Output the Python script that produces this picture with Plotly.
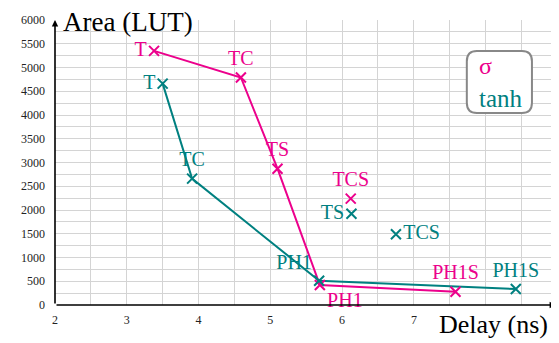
import plotly.graph_objects as go

# sigma series
sig_labels = ["T", "TC", "TS", "PH1", "PH1S", "TCS"]
sig_delay = [3.38, 4.59, 5.10, 5.69, 7.58, 6.12]
sig_area = [5350, 4790, 2870, 420, 280, 2240]
sig_front = ["T", "TC", "TS", "PH1", "PH1S"]

# tanh series
tanh_labels = ["T", "TC", "PH1", "PH1S", "TS", "TCS"]
tanh_delay = [3.50, 3.91, 5.68, 8.42, 6.13, 6.75]
tanh_area = [4660, 2660, 510, 336, 1920, 1490]
tanh_front = ["T", "TC", "PH1", "PH1S"]

x_ticks = [2, 3, 4, 5, 6, 7]
y_ticks = list(range(0, 6001, 500))

SIG = "#ec008c"
TEAL = "#008080"
FONT = "Liberation Serif"

sig_pos = ["middle left", "top center", "top center", "bottom right", "top center", "top center"]
tanh_pos = ["middle left", "top center", "top left", "top center", "middle left", "middle right"]

fig = go.Figure()

def front(labels, xs, ys, keep):
    fx = [xs[labels.index(k)] for k in keep]
    fy = [ys[labels.index(k)] for k in keep]
    return fx, fy

fx, fy = front(sig_labels, sig_delay, sig_area, sig_front)
fig.add_trace(go.Scatter(x=fx, y=fy, mode="lines", line=dict(color=SIG, width=2), hoverinfo="skip"))
fx, fy = front(tanh_labels, tanh_delay, tanh_area, tanh_front)
fig.add_trace(go.Scatter(x=fx, y=fy, mode="lines", line=dict(color=TEAL, width=2), hoverinfo="skip"))

fig.add_trace(go.Scatter(x=sig_delay, y=sig_area, mode="markers+text", text=sig_labels,
                         textposition=sig_pos,
                         textfont=dict(family=FONT, size=20, color=SIG),
                         marker=dict(symbol="x-thin", size=10, line=dict(color=SIG, width=2)),
                         cliponaxis=False))
fig.add_trace(go.Scatter(x=tanh_delay, y=tanh_area, mode="markers+text", text=tanh_labels,
                         textposition=tanh_pos,
                         textfont=dict(family=FONT, size=20, color=TEAL),
                         marker=dict(symbol="x-thin", size=10, line=dict(color=TEAL, width=2)),
                         cliponaxis=False))

XMAX = 8.98
fig.update_xaxes(range=[2, XMAX], tickvals=x_ticks, ticktext=[str(v) for v in x_ticks],
                 showgrid=True, gridcolor="#d4d4d4", gridwidth=1,
                 minor=dict(dtick=0.5, showgrid=True, gridcolor="#d4d4d4", gridwidth=1),
                 zeroline=False, showline=False, ticks="", ticklabelstandoff=6,
                 tickfont=dict(family=FONT, size=12, color="#222"))
fig.update_yaxes(range=[0, 6000], tickvals=y_ticks, ticktext=[str(v) for v in y_ticks],
                 showgrid=True, gridcolor="#d4d4d4", gridwidth=1,
                 minor=dict(dtick=250, showgrid=True, gridcolor="#d4d4d4", gridwidth=1),
                 zeroline=False, showline=False, ticks="", ticklabelstandoff=9,
                 tickfont=dict(family=FONT, size=12, color="#222"))

# axes with arrows
fig.add_annotation(x=XMAX, y=0, ax=2, ay=0, xref="x", yref="y", axref="x", ayref="y",
                   showarrow=True, arrowhead=2, arrowsize=0.8, arrowwidth=1.6, arrowcolor="black", text="")
fig.add_annotation(x=2, y=6000, ax=2, ay=0, xref="x", yref="y", axref="x", ayref="y",
                   showarrow=True, arrowhead=2, arrowsize=0.8, arrowwidth=1.6, arrowcolor="black", text="")

fig.add_annotation(x=2, y=6000, xref="x", yref="y", text="Area (LUT)", showarrow=False,
                   xanchor="left", yanchor="middle", xshift=6, yshift=-2,
                   font=dict(family=FONT, size=27, color="black"))
fig.add_annotation(x=XMAX, y=0, xref="x", yref="y", text="Delay (ns)", showarrow=False,
                   xanchor="right", yanchor="top", xshift=-6, yshift=-3,
                   font=dict(family=FONT, size=26, color="black"))

# legend box
fig.add_shape(type="path", xref="paper", yref="paper",
              path="M 0.842,0.891 L 0.932,0.891 Q 0.952,0.891 0.952,0.855 L 0.952,0.71 Q 0.952,0.674 0.932,0.674 "
                   "L 0.842,0.674 Q 0.822,0.674 0.822,0.71 L 0.822,0.855 Q 0.822,0.891 0.842,0.891 Z",
              line=dict(color="#888888", width=2), fillcolor="white", layer="above")
fig.add_annotation(x=0.843, y=0.84, xref="paper", yref="paper", text="σ", showarrow=False,
                   xanchor="left", yanchor="middle", font=dict(family=FONT, size=24, color=SIG))
fig.add_annotation(x=0.843, y=0.726, xref="paper", yref="paper", text="tanh", showarrow=False,
                   xanchor="left", yanchor="middle", font=dict(family=FONT, size=25, color=TEAL))

# the page adds an 8px body margin; size the figure to the visible area
fig.update_layout(width=551, height=335, margin=dict(l=47, r=3, t=12, b=38),
                  plot_bgcolor="white", paper_bgcolor="white", showlegend=False)

fig.write_html("out.html")
